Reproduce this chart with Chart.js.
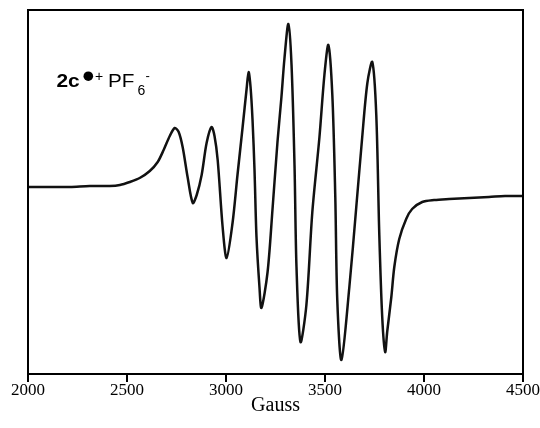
<!DOCTYPE html>
<html>
<head>
<meta charset="utf-8">
<script src="https://cdn.jsdelivr.net/npm/chart.js@4.4.1/dist/chart.umd.min.js"></script>
<style>
  html, body { margin: 0; padding: 0; background: #fff; }
  #wrap { width: 540px; height: 428px; position: relative; }
</style>
</head>
<body>
<div id="wrap"><canvas id="chart"></canvas></div>
<script>
// EPR spectrum, field (Gauss) vs. derivative signal (arb. units, baseline = 0)
const fieldGauss = [
  2000, 2111, 2212, 2312, 2413, 2464, 2514, 2564, 2615, 2655, 2685, 2716, 2741,
  2761, 2781, 2806, 2832, 2852, 2877, 2902, 2927, 2942, 2958, 2983, 3003,
  3033, 3058, 3084, 3104, 3114, 3124, 3134, 3144, 3154, 3169, 3179,
  3210, 3235, 3260, 3280, 3295, 3315, 3331, 3346, 3356, 3376,
  3406, 3436, 3472, 3497, 3517, 3537, 3552, 3562, 3583,
  3623, 3658, 3688, 3714, 3739, 3759, 3774, 3789, 3804,
  3814, 3835, 3850, 3875, 3910, 3940, 3991, 4051, 4127, 4228, 4328, 4409, 4500
];
const signal = [
  0, 0, 0, 1, 1, 2, 5, 9, 16, 25, 37, 51, 59,
  55, 40, 10, -16, -8, 12, 44, 60, 51, 27, -40, -71,
  -36, 12, 60, 98, 115, 100, 67, 17, -50, -100, -121,
  -85, -22, 45, 90, 128, 163, 122, 22, -80, -155,
  -118, -25, 50, 112, 142, 92, -10, -113, -173,
  -100, -20, 50, 104, 125, 72, -46, -130, -165,
  -145, -110, -80, -52, -32, -22, -15, -13, -12, -11, -10, -9, -9
];
const xTicks = [2000, 2500, 3000, 3500, 4000, 4500];
const xTitle = 'Gauss';

const points = fieldGauss.map((g, i) => ({ x: g, y: signal[i] }));

function stretchText(ctx, txt, x, y, sx) {
  ctx.save();
  ctx.translate(x, y);
  ctx.scale(sx, 1);
  ctx.fillText(txt, 0, 0);
  ctx.restore();
}

// frame box, axis title and the compound label
const framePlugin = {
  id: 'frame',
  afterDraw(chart) {
    const { ctx, chartArea: a } = chart;
    ctx.save();
    ctx.strokeStyle = '#000';
    ctx.lineWidth = 2;
    ctx.strokeRect(a.left, a.top, a.right - a.left, a.bottom - a.top);

    ctx.fillStyle = '#000';
    ctx.textAlign = 'center';
    ctx.textBaseline = 'middle';
    ctx.font = '20px "Liberation Serif", "Times New Roman", serif';
    ctx.fillText(xTitle, (a.left + a.right) / 2, 406);

    // 2c•+PF6-
    ctx.textAlign = 'left';
    ctx.textBaseline = 'alphabetic';
    const sans = '"Liberation Sans", Arial, sans-serif';
    ctx.font = 'bold 19px ' + sans;
    stretchText(ctx, '2c', 56.5, 87, 1.1);
    ctx.beginPath();
    ctx.arc(88.3, 76.2, 4.8, 0, Math.PI * 2);
    ctx.fill();
    ctx.font = '14px ' + sans;
    ctx.fillText('+', 95, 81);
    ctx.font = '18px ' + sans;
    stretchText(ctx, 'PF', 108, 87, 1.15);
    ctx.font = '14px ' + sans;
    ctx.fillText('6', 137.5, 95);
    ctx.font = '13px ' + sans;
    ctx.fillText('-', 145.5, 80);
    ctx.restore();
  }
};

new Chart(document.getElementById('chart'), {
  type: 'line',
  data: {
    datasets: [{
      data: points,
      borderColor: '#111',
      borderWidth: 2.5,
      pointRadius: 0,
      fill: false,
      tension: 0.3
    }]
  },
  options: {
    responsive: true,
    maintainAspectRatio: false,
    animation: false,
    layout: { padding: { left: 28, right: 16, top: 10, bottom: 29 } },
    plugins: {
      legend: { display: false },
      tooltip: { enabled: false }
    },
    scales: {
      x: {
        type: 'linear',
        min: 2000,
        max: 4500,
        afterBuildTicks(axis) { axis.ticks = xTicks.map(v => ({ value: v })); },
        grid: { drawOnChartArea: false, tickLength: 8, color: '#000', lineWidth: 2 },
        border: { display: true, color: '#000', width: 2 },
        ticks: {
          padding: 0,
          color: '#000',
          maxRotation: 0,
          callback: v => String(v),
          font: { family: '"Liberation Serif", "Times New Roman", serif', size: 17, lineHeight: 1 }
        }
      },
      y: {
        display: false,
        min: -187,
        max: 177
      }
    }
  },
  plugins: [framePlugin]
});
</script>
</body>
</html>
